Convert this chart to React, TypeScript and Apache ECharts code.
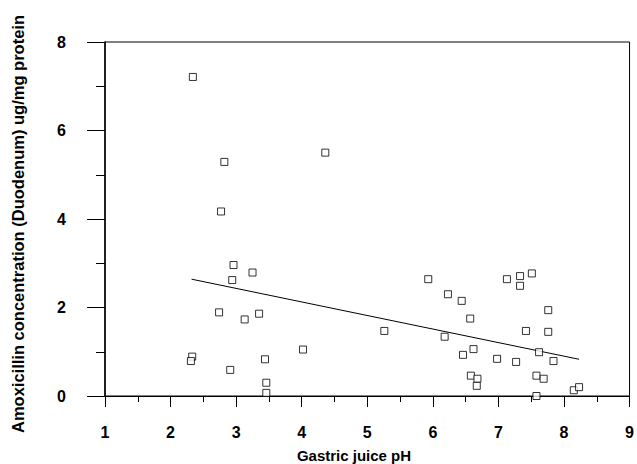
import React, { useEffect, useRef } from "react";
import * as echarts from "echarts";

const phValues: number[] = [
  2.34, 2.82, 4.36, 2.77,
  2.96, 3.25, 2.94, 2.74, 3.13, 3.35, 4.02, 2.33, 2.31, 3.44, 2.91, 3.46, 3.46,
  5.26, 5.93, 6.23, 6.44, 6.57, 6.18, 6.62, 6.46, 6.98, 7.27, 6.58, 6.68, 6.67,
  7.13, 7.33, 7.33, 7.51, 7.76, 7.42, 7.76, 7.62, 7.84, 7.58, 7.69, 7.58, 8.15, 8.23,
];
const concValues: number[] = [
  7.21, 5.29, 5.5, 4.17,
  2.96, 2.79, 2.62, 1.89, 1.73, 1.86, 1.05, 0.89, 0.79, 0.83, 0.59, 0.3, 0.07,
  1.47, 2.64, 2.3, 2.15, 1.75, 1.34, 1.06, 0.93, 0.84, 0.77, 0.46, 0.39, 0.23,
  2.64, 2.71, 2.49, 2.77, 1.94, 1.47, 1.45, 0.99, 0.79, 0.46, 0.39, 0.0, 0.13, 0.2,
];
const regressionX: number[] = [2.32, 8.23];
const regressionY: number[] = [2.64, 0.83];

const xTitle = "Gastric juice pH";
const yTitle = "Amoxicillin concentration (Duodenum) ug/mg protein";

export default function App() {
  const ref = useRef<HTMLDivElement>(null);
  useEffect(() => {
    document.body.style.margin = "0";
    if (!ref.current) return;
    const chart = echarts.init(ref.current, null, { renderer: "svg" });
    const font = "'Liberation Sans', Arial, sans-serif";
    chart.setOption({
      animation: false,
      backgroundColor: "#fff",
      grid: {
        left: 105,
        right: 3,
        top: 42,
        bottom: 68,
        show: true,
        borderColor: "#000",
        borderWidth: 1,
      },
      xAxis: {
        type: "value",
        min: 1,
        max: 9,
        interval: 1,
        axisLine: { show: true, lineStyle: { color: "#000", width: 1.2 } },
        axisTick: { show: true, length: 11, lineStyle: { color: "#000" } },
        minorTick: { show: true, splitNumber: 2, length: 6, lineStyle: { color: "#000" } },
        splitLine: { show: false },
        axisLabel: {
          margin: 28,
          color: "#000",
          fontFamily: font,
          fontWeight: "bold",
          fontSize: 16,
        },
      },
      yAxis: {
        type: "value",
        min: 0,
        max: 8,
        interval: 2,
        axisLine: { show: true, lineStyle: { color: "#000", width: 1.5 } },
        axisTick: { show: true, length: 18, lineStyle: { color: "#000" } },
        minorTick: { show: true, splitNumber: 2, length: 9, lineStyle: { color: "#000" } },
        splitLine: { show: false },
        axisLabel: {
          margin: 39,
          color: "#000",
          fontFamily: font,
          fontWeight: "bold",
          fontSize: 16,
        },
      },
      graphic: [
        {
          type: "text",
          x: 354,
          y: 455,
          style: {
            text: xTitle,
            fill: "#000",
            font: `bold 15px ${font}`,
            align: "center",
            verticalAlign: "middle",
          },
        },
        {
          type: "text",
          x: 18,
          y: 224,
          rotation: Math.PI / 2,
          style: {
            text: yTitle,
            fill: "#000",
            font: `bold 16.5px ${font}`,
            align: "center",
            verticalAlign: "middle",
          },
        },
      ],
      series: [
        {
          type: "scatter",
          data: phValues.map((x, i) => [x, concValues[i]]),
          symbol: "rect",
          symbolSize: 7,
          itemStyle: { color: "#fff", borderColor: "#000", borderWidth: 1 },
          z: 3,
        },
        {
          type: "line",
          data: regressionX.map((x, i) => [x, regressionY[i]]),
          showSymbol: false,
          symbol: "none",
          lineStyle: { color: "#000", width: 1 },
          z: 2,
        },
      ],
    });
    return () => chart.dispose();
  }, []);
  return (
    <div
      ref={ref}
      style={{ position: "fixed", left: 0, top: 0, width: 637, height: 464 }}
    />
  );
}
